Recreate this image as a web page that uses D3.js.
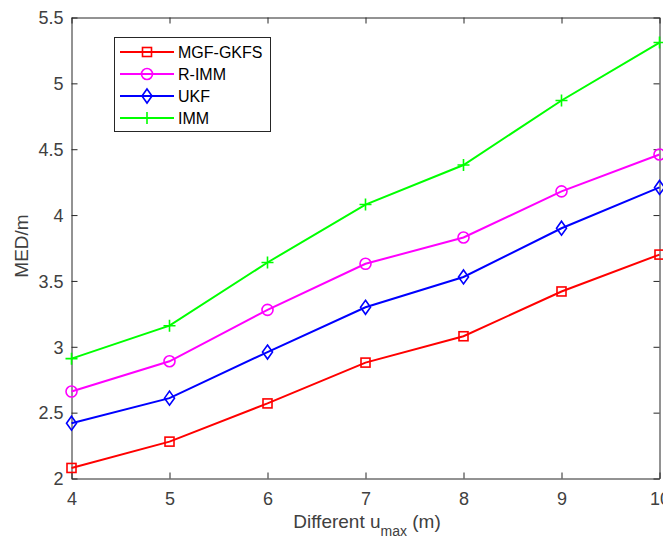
<!DOCTYPE html>
<html>
<head>
<meta charset="utf-8">
<script src="https://cdn.jsdelivr.net/npm/d3@7"></script>
<style>
  body { margin: 0; background: #fff; }
  svg { display: block; font-family: "Liberation Sans", Arial, sans-serif; }
</style>
</head>
<body>
<svg id="chart"></svg>
<script>
let xValues = [4, 5, 6, 7, 8, 9, 10];
let mgfGkfs = [2.08, 2.28, 2.57, 2.88, 3.08, 3.42, 3.70];
let rImm = [2.66, 2.89, 3.28, 3.63, 3.83, 4.18, 4.46];
let ukf = [2.42, 2.61, 2.96, 3.30, 3.53, 3.90, 4.21];
let imm = [2.91, 3.16, 3.64, 4.08, 4.38, 4.87, 5.31];
let yTicks = [2, 2.5, 3, 3.5, 4, 4.5, 5, 5.5];
let seriesNames = ['MGF-GKFS', 'R-IMM', 'UKF', 'IMM'];

let width = 663;
let height = 543;
let plotLeft = 71.5, plotRight = 659.5, plotTop = 17.5, plotBottom = 478.5;

let series = [
  { name: seriesNames[0], values: mgfGkfs, color: '#ff0000', marker: 'square' },
  { name: seriesNames[1], values: rImm, color: '#ff00ff', marker: 'circle' },
  { name: seriesNames[2], values: ukf, color: '#0000ff', marker: 'diamond' },
  { name: seriesNames[3], values: imm, color: '#00ff00', marker: 'plus' }
];

let svg = d3.select('#chart').attr('width', width).attr('height', height);

let xScale = d3.scaleLinear().domain([4, 10]).range([plotLeft, plotRight]);
let yScale = d3.scaleLinear().domain([2, 5.5]).range([plotBottom, plotTop]);

let axisColor = '#262626';
let labelColor = '#404040';

// box and inward ticks
let drawAxes = () => {
  let xAxis = d3.axisBottom(xScale).tickValues(xValues).tickFormat(d3.format('d')).tickSizeInner(-6).tickSizeOuter(0).tickPadding(14);
  let yAxis = d3.axisLeft(yScale).tickValues(yTicks).tickFormat(d3.format('')).tickSizeInner(-6).tickSizeOuter(0).tickPadding(8);
  let xTop = d3.axisTop(xScale).tickValues(xValues).tickSizeInner(-6).tickSizeOuter(0).tickFormat('');
  let yRight = d3.axisRight(yScale).tickValues(yTicks).tickSizeInner(-6).tickSizeOuter(0).tickFormat('');

  svg.append('g').attr('transform', 'translate(0,' + plotBottom + ')').call(xAxis);
  let gy = svg.append('g').attr('transform', 'translate(' + plotLeft + ',0)').call(yAxis);
  svg.append('g').attr('transform', 'translate(0,' + plotTop + ')').call(xTop);
  svg.append('g').attr('transform', 'translate(' + plotRight + ',0)').call(yRight);

  svg.selectAll('.domain').attr('stroke', axisColor).attr('stroke-width', 1);
  svg.selectAll('.tick line').attr('stroke', axisColor).attr('stroke-width', 1);
  svg.selectAll('.tick text').attr('fill', labelColor).style('font-size', '18px')
    .style('font-family', '"Liberation Sans", Arial, sans-serif');
  gy.selectAll('.tick text').attr('dy', '0.35em');

  // axis labels
  let xl = svg.append('text').attr('x', 367).attr('y', 528).attr('text-anchor', 'middle')
    .attr('fill', labelColor).style('font-size', '19px');
  xl.append('tspan').text('Different u');
  xl.append('tspan').attr('dy', 8).style('font-size', '14px').text('max');
  xl.append('tspan').attr('dy', -8).text('  (m)');

  svg.append('text').attr('transform', 'translate(28,' + ((plotTop + plotBottom) / 2 - 2) + ') rotate(-90)')
    .attr('text-anchor', 'middle').attr('fill', labelColor).style('font-size', '19px').text('MED/m');
};

let drawMarker = (g, type, x, y, color) => {
  if (type === 'square') {
    g.append('rect').attr('x', x - 4.5).attr('y', y - 4.5).attr('width', 9).attr('height', 9)
      .attr('fill', 'none').attr('stroke', color).attr('stroke-width', 1.6);
  } else if (type === 'circle') {
    g.append('circle').attr('cx', x).attr('cy', y).attr('r', 5.5)
      .attr('fill', 'none').attr('stroke', color).attr('stroke-width', 1.6);
  } else if (type === 'diamond') {
    g.append('path').attr('d', 'M' + x + ',' + (y - 7) + 'L' + (x + 5) + ',' + y + 'L' + x + ',' + (y + 7) + 'L' + (x - 5) + ',' + y + 'Z')
      .attr('fill', 'none').attr('stroke', color).attr('stroke-width', 1.6);
  } else {
    g.append('path').attr('d', 'M' + (x - 6) + ',' + y + 'H' + (x + 6) + 'M' + x + ',' + (y - 6) + 'V' + (y + 6))
      .attr('fill', 'none').attr('stroke', color).attr('stroke-width', 1.6);
  }
};

let drawLines = () => {
  let line = d3.line().x((d, i) => xScale(xValues[i])).y(d => yScale(d));
  series.forEach(s => {
    let g = svg.append('g');
    g.append('path').datum(s.values).attr('d', line)
      .attr('fill', 'none').attr('stroke', s.color).attr('stroke-width', 2);
    s.values.forEach((v, i) => drawMarker(g, s.marker, xScale(xValues[i]), yScale(v), s.color));
  });
};

let drawLegend = () => {
  let lg = svg.append('g');
  lg.append('rect').attr('x', 114.5).attr('y', 37.5).attr('width', 156).attr('height', 94)
    .attr('fill', '#fff').attr('stroke', '#262626').attr('stroke-width', 1);
  series.forEach((s, i) => {
    let y = 52 + i * 22;
    lg.append('line').attr('x1', 120).attr('x2', 174).attr('y1', y).attr('y2', y)
      .attr('stroke', s.color).attr('stroke-width', 2);
    drawMarker(lg, s.marker, 147, y, s.color);
    lg.append('text').attr('x', 178).attr('y', y).attr('dy', '0.36em')
      .attr('fill', '#000').style('font-size', '16px').text(s.name);
  });
};

drawAxes();
drawLines();
drawLegend();
</script>
</body>
</html>
